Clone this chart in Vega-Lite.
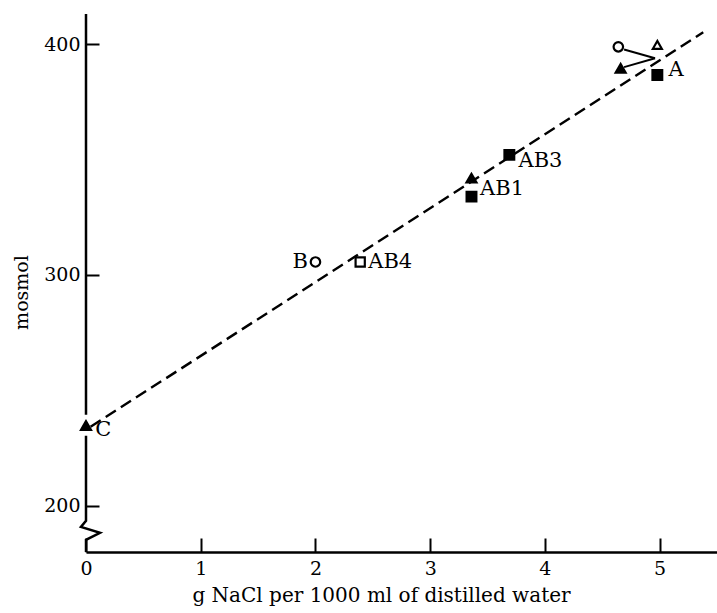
{
  "$schema": "https://vega.github.io/schema/vega-lite/v6.json",
  "width": 631,
  "height": 538,
  "autosize": {"type": "none"},
  "padding": {"left": 86, "top": 14, "right": 0, "bottom": 61},
  "background": "white",
  "config": {"view": {"stroke": null}, "font": "DejaVu Serif"},
  "datasets": {
    "fit": [{"x": 0.04, "y": 234.2}, {"x": 5.38, "y": 405.1}],
    "axisline": [
      {"seg": "upper", "order": 1, "x": 0, "y": 413},
      {"seg": "upper", "order": 2, "x": 0, "y": 239.4},
      {"seg": "lower", "order": 1, "x": 0, "y": 230.3},
      {"seg": "lower", "order": 2, "x": 0, "y": 193.5},
      {"seg": "lower", "order": 3, "x": -0.044, "y": 190.9},
      {"seg": "lower", "order": 4, "x": 0.122, "y": 188.3},
      {"seg": "lower", "order": 5, "x": 0, "y": 185.3},
      {"seg": "lower", "order": 6, "x": 0, "y": 180}
    ],
    "pointers": [
      {"seg": "p1", "order": 1, "x": 4.69, "y": 397.6},
      {"seg": "p1", "order": 2, "x": 4.96, "y": 393.8},
      {"seg": "p2", "order": 1, "x": 4.69, "y": 390.0},
      {"seg": "p2", "order": 2, "x": 4.96, "y": 393.8}
    ],
    "points": [
      {"sample": "C", "marker": "solid triangle", "x": 0, "y": 234.8},
      {"sample": "B", "marker": "open circle", "x": 2.0, "y": 305.6},
      {"sample": "AB4", "marker": "open square", "x": 2.39, "y": 305.6},
      {"sample": "AB1", "marker": "solid triangle", "x": 3.36, "y": 341.9},
      {"sample": "AB1", "marker": "solid square", "x": 3.36, "y": 333.9},
      {"sample": "AB3", "marker": "solid square", "x": 3.69, "y": 352.0},
      {"sample": "A", "marker": "open circle", "x": 4.64, "y": 398.8},
      {"sample": "A", "marker": "open triangle", "x": 4.98, "y": 399.6},
      {"sample": "A", "marker": "solid triangle", "x": 4.66, "y": 389.5},
      {"sample": "A", "marker": "solid square", "x": 4.98, "y": 386.6}
    ],
    "labelsRight": [
      {"label": "C", "x": 0.08, "y": 232.9},
      {"label": "AB4", "x": 2.46, "y": 305.6},
      {"label": "AB1", "x": 3.435, "y": 337.1},
      {"label": "AB3", "x": 3.77, "y": 349.5},
      {"label": "A", "x": 5.077, "y": 388.7}
    ],
    "labelsLeft": [
      {"label": "B", "x": 1.935, "y": 305.6}
    ]
  },
  "layer": [
    {
      "data": {"name": "fit"},
      "mark": {"type": "line", "color": "black", "strokeWidth": 2.4, "strokeDash": [12, 6]},
      "encoding": {
        "x": {
          "field": "x", "type": "quantitative",
          "scale": {"domain": [0, 5.5], "nice": false, "zero": false},
          "axis": {
            "values": [0, 1, 2, 3, 4, 5], "format": "d",
            "title": "g NaCl per 1000 ml of distilled water",
            "titleFont": "DejaVu Serif", "titleFontSize": 20, "titleFontWeight": "normal",
            "titleColor": "black", "titleX": 295, "titleY": 49, "titleBaseline": "alphabetic", "titleAlign": "center",
            "labelFont": "DejaVu Serif", "labelFontSize": 19, "labelColor": "black",
            "labelPadding": 21, "tickSize": -14, "tickWidth": 2, "tickColor": "black",
            "domainColor": "black", "domainWidth": 2.5, "grid": false, "labelFlush": false
          }
        },
        "y": {
          "field": "y", "type": "quantitative",
          "scale": {"domain": [180, 413], "nice": false, "zero": false},
          "axis": {
            "values": [200, 300, 400],
            "title": "mosmol",
            "titleFont": "DejaVu Serif", "titleFontSize": 19, "titleFontWeight": "normal",
            "titleColor": "black", "titleX": -64.5, "titleY": 278, "titleAngle": -90, "titleAlign": "center", "titleBaseline": "middle",
            "labelFont": "DejaVu Serif", "labelFontSize": 19, "labelColor": "black",
            "labelPadding": 19, "tickSize": -13, "tickWidth": 2, "tickColor": "black",
            "domain": false, "grid": false, "labelFlush": false
          }
        }
      }
    },
    {
      "data": {"name": "axisline"},
      "mark": {"type": "line", "color": "black", "strokeWidth": 2.5, "clip": false},
      "encoding": {
        "x": {"field": "x", "type": "quantitative"},
        "y": {"field": "y", "type": "quantitative"},
        "detail": {"field": "seg"},
        "order": {"field": "order"}
      }
    },
    {
      "data": {"name": "pointers"},
      "mark": {"type": "line", "color": "black", "strokeWidth": 2},
      "encoding": {
        "x": {"field": "x", "type": "quantitative"},
        "y": {"field": "y", "type": "quantitative"},
        "detail": {"field": "seg"},
        "order": {"field": "order"}
      }
    },
    {
      "data": {"name": "points"},
      "mark": {"type": "point", "stroke": "black", "strokeWidth": 2.2, "opacity": 1},
      "encoding": {
        "x": {"field": "x", "type": "quantitative"},
        "y": {"field": "y", "type": "quantitative"},
        "shape": {
          "field": "marker", "type": "nominal", "legend": null,
          "scale": {"domain": ["solid triangle", "solid square", "open circle", "open square", "open triangle"],
                    "range": ["triangle-up", "square", "circle", "square", "triangle-up"]}
        },
        "fill": {
          "field": "marker", "type": "nominal", "legend": null,
          "scale": {"domain": ["solid triangle", "solid square", "open circle", "open square", "open triangle"],
                    "range": ["black", "black", "white", "white", "white"]}
        },
        "size": {
          "field": "marker", "type": "nominal", "legend": null,
          "scale": {"domain": ["solid triangle", "solid square", "open circle", "open square", "open triangle"],
                    "range": [100, 80, 190, 50, 100]}
        }
      }
    },
    {
      "data": {"name": "labelsRight"},
      "mark": {"type": "text", "align": "left", "baseline": "middle", "font": "DejaVu Serif", "fontSize": 21, "color": "black"},
      "encoding": {
        "x": {"field": "x", "type": "quantitative"},
        "y": {"field": "y", "type": "quantitative"},
        "text": {"field": "label"}
      }
    },
    {
      "data": {"name": "labelsLeft"},
      "mark": {"type": "text", "align": "right", "baseline": "middle", "font": "DejaVu Serif", "fontSize": 21, "color": "black"},
      "encoding": {
        "x": {"field": "x", "type": "quantitative"},
        "y": {"field": "y", "type": "quantitative"},
        "text": {"field": "label"}
      }
    }
  ]
}
